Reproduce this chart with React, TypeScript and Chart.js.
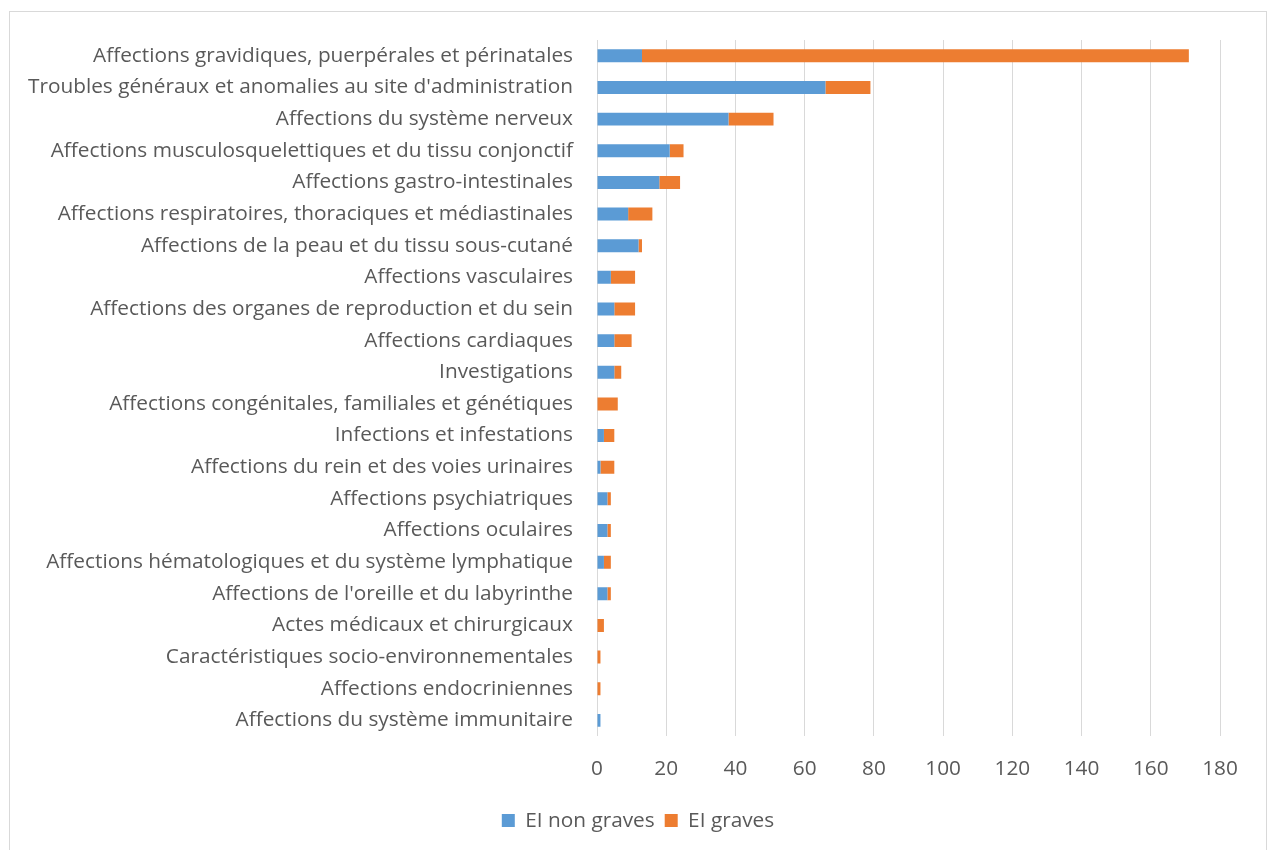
import React, { useEffect, useRef } from "react";
import { Chart, registerables } from "chart.js";

Chart.register(...registerables);

const categories = [
  "Affections gravidiques, puerpérales et périnatales",
  "Troubles généraux et anomalies au site d'administration",
  "Affections du système nerveux",
  "Affections musculosquelettiques et du tissu conjonctif",
  "Affections gastro-intestinales",
  "Affections respiratoires, thoraciques et médiastinales",
  "Affections de la peau et du tissu sous-cutané",
  "Affections vasculaires",
  "Affections des organes de reproduction et du sein",
  "Affections cardiaques",
  "Investigations",
  "Affections congénitales, familiales et génétiques",
  "Infections et infestations",
  "Affections du rein et des voies urinaires",
  "Affections psychiatriques",
  "Affections oculaires",
  "Affections hématologiques et du système lymphatique",
  "Affections de l'oreille et du labyrinthe",
  "Actes médicaux et chirurgicaux",
  "Caractéristiques socio-environnementales",
  "Affections endocriniennes",
  "Affections du système immunitaire",
];

const nonGraves = [13, 66, 38, 21, 18, 9, 12, 4, 5, 5, 5, 0, 2, 1, 3, 3, 2, 3, 0, 0, 0, 1];
const graves = [158, 13, 13, 4, 6, 7, 1, 7, 6, 5, 2, 6, 3, 4, 1, 1, 2, 1, 2, 1, 1, 0];

const seriesNames = ["EI non graves", "EI graves"];
const xMax = 180;
const xStep = 20;

export default function App() {
  const ref = useRef<HTMLCanvasElement | null>(null);

  useEffect(() => {
    if (!ref.current) return;
    const font = { family: "'Open Sans', sans-serif", size: 20.8 };
    const chart = new Chart(ref.current, {
      type: "bar",
      data: {
        labels: categories,
        datasets: [
          {
            label: seriesNames[0],
            data: nonGraves,
            backgroundColor: "#5B9BD5",
            barPercentage: 0.82,
            categoryPercentage: 0.5,
          },
          {
            label: seriesNames[1],
            data: graves,
            backgroundColor: "#ED7D31",
            barPercentage: 0.82,
            categoryPercentage: 0.5,
          },
        ],
      },
      options: {
        indexAxis: "y",
        animation: false,
        responsive: false,
        maintainAspectRatio: false,
        layout: { padding: { top: 28, right: 0, bottom: 9, left: 0 } },
        plugins: {
          legend: {
            position: "bottom",
            labels: {
              boxWidth: 13,
              boxHeight: 13,
              color: "#595959",
              font,
              padding: 10,
            },
          },
          tooltip: { enabled: false },
        },
        scales: {
          x: {
            stacked: true,
            min: 0,
            max: xMax,
            ticks: { stepSize: xStep, color: "#595959", font, padding: 20 },
            grid: { color: "#d9d9d9", lineWidth: 1, drawTicks: false },
            border: { display: false },
            afterFit: (s: any) => {
              s.height = 64;
            },
          },
          y: {
            stacked: true,
            ticks: { color: "#595959", font, padding: 24, autoSkip: false },
            grid: { display: false, drawTicks: false },
            border: { display: false },
            afterFit: (s: any) => {
              s.width = 587;
              s.paddingTop = 0;
              s.paddingBottom = 0;
            },
          },
          yRight: {
            type: "linear",
            position: "right",
            display: true,
            ticks: { display: false },
            grid: { display: false, drawTicks: false },
            border: { display: false },
            afterFit: (s: any) => {
              s.width = 46;
              s.paddingTop = 0;
              s.paddingBottom = 0;
            },
          },
        },
      },
    });
    return () => chart.destroy();
  }, []);

  return (
    <div
      style={{
        position: "absolute",
        left: 9,
        top: 11,
        width: 1256,
        height: 838,
        border: "1px solid #d9d9d9",
        background: "#fff",
      }}
    >
      <canvas ref={ref} width={1256} height={838} style={{ display: "block" }} />
    </div>
  );
}
